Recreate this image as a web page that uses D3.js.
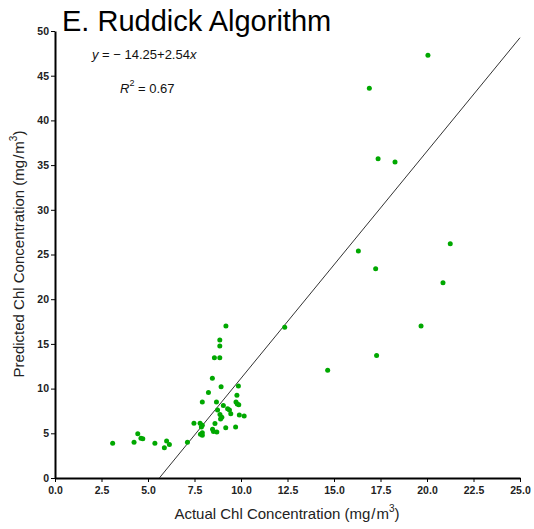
<!DOCTYPE html>
<html>
<head>
<meta charset="utf-8">
<script src="https://cdn.jsdelivr.net/npm/d3@7"></script>
<style>
  html, body { margin: 0; padding: 0; background: #fff; }
  svg { display: block; font-family: "Liberation Sans", Arial, sans-serif; }
</style>
</head>
<body>
<svg id="chart" width="534" height="529"></svg>
<script>
// Measured vs. predicted chlorophyll (mg/m^3)
const actualChl = [3.1, 4.25, 4.45, 4.62, 4.72, 5.37, 5.88, 6.0, 6.15, 7.12,
  7.47, 7.8, 7.92, 7.87, 7.92, 7.82, 7.92, 7.92, 8.25, 8.46,
  8.47, 8.52, 8.6, 8.68, 8.7, 8.74, 8.57, 8.86, 8.86, 8.86,
  9.19, 8.93, 8.87, 8.9, 8.97, 9.05, 9.18, 9.28, 9.38, 9.45,
  9.71, 9.73, 9.8, 9.88, 9.78, 9.86, 9.91, 10.17, 12.35, 14.66,
  16.31, 16.9, 17.37, 18.28, 17.24, 17.29, 19.68, 20.05, 20.86, 21.25];
const predictedChl = [3.9, 4.0, 4.95, 4.45, 4.38, 3.88, 3.38, 4.15, 3.75, 4.0,
  6.12, 6.12, 5.9, 5.7, 5.07, 4.9, 4.78, 8.5, 9.55, 11.15,
  5.45, 5.2, 6.1, 8.5, 5.15, 7.6, 13.45, 13.45, 14.77, 15.44,
  17.0, 10.2, 7.1, 6.6, 6.8, 8.1, 5.63, 7.75, 7.6, 7.2,
  5.7, 8.5, 8.28, 8.2, 9.27, 10.3, 7.05, 6.93, 16.86, 12.05,
  25.4, 43.6, 35.7, 35.35, 23.4, 13.7, 17.0, 47.3, 21.85, 26.2];

const xTicks = [0, 2.5, 5, 7.5, 10, 12.5, 15, 17.5, 20, 22.5, 25];
const yTicks = [0, 5, 10, 15, 20, 25, 30, 35, 40, 45, 50];

// Fitted regression: y = intercept + slope * x
const intercept = -14.25;
const slope = 2.54;
const rSquared = 0.67;

const svg = d3.select("#chart");
const plot = { left: 55, right: 520, top: 31, bottom: 478 };

const x = d3.scaleLinear().domain([0, 25]).range([plot.left, plot.right]);
const y = d3.scaleLinear().domain([0, 50]).range([plot.bottom, plot.top]);

// Title
svg.append("text")
  .attr("x", 62).attr("y", 31)
  .attr("font-size", 29)
  .attr("fill", "#000")
  .text("E. Ruddick Algorithm");

// Axes
const xAxis = svg.append("g")
  .attr("transform", `translate(0,${plot.bottom})`)
  .call(d3.axisBottom(x).tickValues(xTicks).tickFormat(d3.format(".1f")).tickSize(4).tickSizeOuter(0));
const yAxis = svg.append("g")
  .attr("transform", `translate(${plot.left},0)`)
  .call(d3.axisLeft(y).tickValues(yTicks).tickFormat(d3.format("d")).tickSize(4).tickSizeOuter(0));

[xAxis, yAxis].forEach(g => {
  g.select(".domain").attr("stroke", "#000").attr("stroke-width", 2);
  g.selectAll(".tick line").attr("stroke", "#000").attr("stroke-width", 1);
  g.selectAll(".tick text")
    .attr("font-family", "'Liberation Sans', Arial, sans-serif")
    .attr("font-size", 10.5).attr("font-weight", "bold").attr("fill", "#222");
});
xAxis.selectAll(".tick text").attr("dy", "0.9em");
yAxis.selectAll(".tick text").attr("x", -6);

// Regression line, clipped to the visible positive range
const x0 = -intercept / slope;
svg.append("line")
  .attr("x1", x(x0)).attr("y1", y(0))
  .attr("x2", x(25)).attr("y2", y(intercept + slope * 25))
  .attr("stroke", "#333").attr("stroke-width", 1);

// Points
svg.append("g")
  .selectAll("circle")
  .data(d3.zip(actualChl, predictedChl))
  .join("circle")
  .attr("cx", d => x(d[0]))
  .attr("cy", d => y(d[1]))
  .attr("r", 2.5)
  .attr("fill", "#00a800");

// Axis titles
const xt = svg.append("text")
  .attr("x", 287).attr("y", 519)
  .attr("text-anchor", "middle")
  .attr("font-size", 15)
  .attr("fill", "#222");
xt.append("tspan").text("Actual Chl Concentration (mg");
xt.append("tspan").attr("dx", 1).text("/");
xt.append("tspan").attr("dx", 1).text("m");
xt.append("tspan").attr("font-size", 10).attr("dy", -7).text("3");
xt.append("tspan").attr("dy", 7).text(")");

const yt = svg.append("text")
  .attr("transform", "translate(24,254) rotate(-90)")
  .attr("text-anchor", "middle")
  .attr("font-size", 15)
  .attr("fill", "#222");
yt.append("tspan").text("Predicted Chl Concentration  (mg");
yt.append("tspan").attr("dx", 1).text("/");
yt.append("tspan").attr("dx", 1).text("m");
yt.append("tspan").attr("font-size", 10).attr("dy", -7).text("3");
yt.append("tspan").attr("dy", 7).text(")");

// Equation and fit quality
const eq = svg.append("text")
  .attr("x", 92).attr("y", 59)
  .attr("font-size", 13).attr("fill", "#111");
eq.append("tspan").attr("font-style", "italic").text("y");
eq.append("tspan").text(" = \u2212 " + Math.abs(intercept).toFixed(2) + "+" + slope.toFixed(2));
eq.append("tspan").attr("font-style", "italic").text("x");

const r2 = svg.append("text")
  .attr("x", 120).attr("y", 93)
  .attr("font-size", 13).attr("fill", "#111");
r2.append("tspan").attr("font-style", "italic").text("R");
r2.append("tspan").attr("font-size", 9).attr("dy", -7).text("2");
r2.append("tspan").attr("dy", 7).text(" = " + rSquared.toFixed(2));
</script>
</body>
</html>
